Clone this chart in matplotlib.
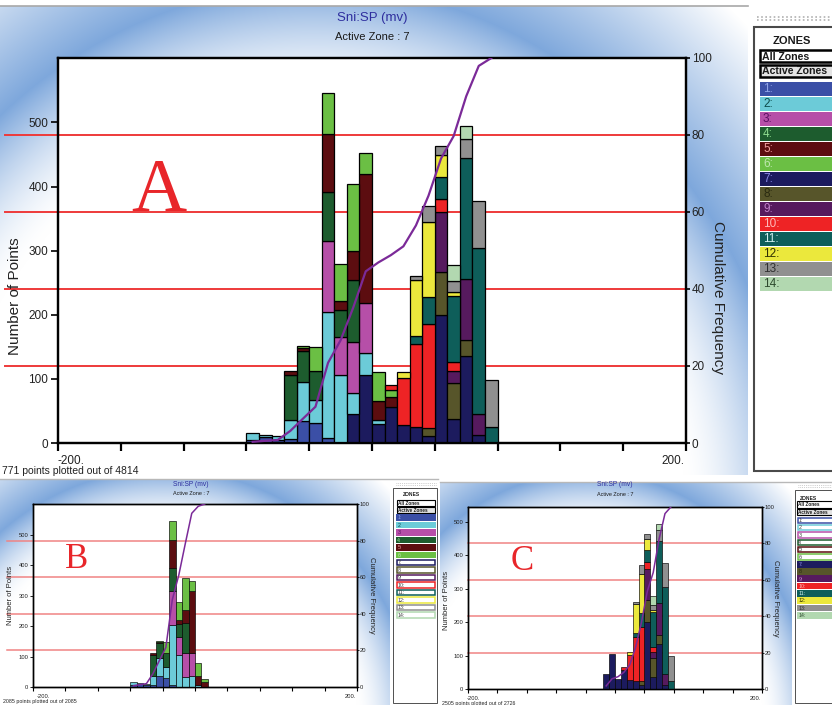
import numpy as np
import matplotlib.pyplot as plt
from matplotlib.patches import Rectangle

W, H = 832, 705
plt.rcParams['font.family'] = ['Liberation Sans', 'DejaVu Sans']

# histogram bins of Sni:SP (mv), 8 mv wide, from -80 to 80
bin_left = np.arange(-80, 80, 8)
bin_width = 8

# points per bin for every zone
zone1 = [5, 10, 5, 7, 35, 31, 8, 0, 0, 0, 0, 0, 0, 0, 0, 0, 0, 0, 0, 0]
zone2 = [10, 2, 6, 29, 60, 36, 197, 106, 32, 35, 6, 0, 0, 0, 0, 0, 0, 0, 0, 0]
zone3 = [0, 0, 0, 0, 0, 0, 110, 59, 79, 78, 0, 0, 0, 0, 0, 0, 0, 0, 0, 0]
zone4 = [0, 0, 0, 70, 48, 45, 77, 43, 98, 0, 0, 0, 0, 0, 0, 0, 0, 0, 0, 0]
zone5 = [0, 0, 0, 7, 5, 0, 90, 13, 44, 201, 30, 16, 0, 0, 0, 0, 0, 0, 0, 0]
zone6 = [0, 0, 0, 0, 3, 37, 64, 59, 105, 33, 44, 10, 0, 0, 0, 0, 0, 0, 0, 0]
zone7 = [0, 0, 0, 0, 0, 0, 0, 0, 46, 106, 30, 56, 28, 25, 11, 200, 37, 136, 12, 0]
zone8 = [0, 0, 0, 0, 0, 0, 0, 0, 0, 0, 0, 0, 0, 0, 12, 66, 56, 25, 0, 0]
zone9 = [0, 0, 0, 0, 0, 0, 0, 0, 0, 0, 0, 0, 0, 0, 0, 94, 19, 95, 34, 0]
zone10 = [0, 0, 0, 0, 0, 0, 0, 0, 0, 0, 0, 9, 73, 130, 162, 21, 15, 0, 0, 0]
zone11 = [0, 0, 0, 0, 0, 0, 0, 0, 0, 0, 0, 0, 0, 12, 42, 34, 103, 188, 258, 25]
zone12 = [0, 0, 0, 0, 0, 0, 0, 0, 0, 0, 0, 0, 9, 87, 118, 34, 5, 0, 0, 0]
zone13 = [0, 0, 0, 0, 0, 0, 0, 0, 0, 0, 0, 0, 0, 6, 25, 14, 17, 31, 74, 73]
zone14 = [0, 0, 0, 0, 0, 0, 0, 0, 0, 0, 0, 0, 0, 0, 0, 0, 25, 20, 0, 0]
zones = [zone1, zone2, zone3, zone4, zone5, zone6, zone7,
         zone8, zone9, zone10, zone11, zone12, zone13, zone14]

zone_colors = ['#3b4fa6', '#6ccbd8', '#b64fa8', '#1d5c2e', '#5c0d10', '#6bbf44',
               '#1c1b5e', '#57552a', '#561a5e', '#ee2325', '#0e5e5a', '#ebe83c',
               '#909090', '#b2d8b0']
zone_labels = ['%d:' % i for i in range(1, 15)]
label_colors = ['#8fa2e6', '#0d4d4d', '#5a1062', '#8fdc8f', '#f0a0a0', '#c0e8b0',
                '#8a8ae6', '#2a2a10', '#c080c8', '#ffb8b8', '#d0f0f0', '#303000',
                '#303030', '#2e4a2e']
active_zone = 7

freq_ticks = [0, 20, 40, 60, 80, 100]
count_ticks = [0, 100, 200, 300, 400, 500]


def fbox(x0, y0, x1, y1):
    return [x0 / W, 1 - y1 / H, (x1 - x0) / W, (y1 - y0) / H]


def fpt(x, y):
    return x / W, 1 - y / H


fig = plt.figure(figsize=(W / 100, H / 100), dpi=100)

# background with the blue gradients of the three screen shots
bg = fig.add_axes([0, 0, 1, 1])
bg.set_xlim(0, W)
bg.set_ylim(H, 0)
bg.axis('off')
img = np.ones((H, W, 3))
yy, xx = np.mgrid[0:H, 0:W]
blue = np.array([112, 158, 216]) / 255


def gradient(x0, y0, x1, y1):
    u = (xx[y0:y1, x0:x1] - x0) / (x1 - x0)
    v = (yy[y0:y1, x0:x1] - y0) / (y1 - y0)
    d = np.sqrt(((u - 0.42) / 0.62) ** 2 + ((v - 1.1) / 1.1) ** 2)
    t = np.clip((d - 0.8) / 0.24, 0, 1) ** 1.6 * np.clip(1 - (d - 1.04) / 0.3, 0, 1)
    t = 0.9 * t[..., None]
    img[y0:y1, x0:x1] = (1 - t) + t * blue


gradient(0, 6, 748, 475)
gradient(0, 479, 390, 705)
gradient(440, 482, 792, 705)
bg.imshow(img, extent=[0, W, H, 0], aspect='auto', zorder=0)
bg.plot([0, 748], [5.5, 5.5], color='#a8a8a8', lw=1.2)
bg.plot([0, 438], [478.5, 478.5], color='#b8b8b8', lw=1.0)
bg.plot([440, 832], [481.5, 481.5], color='#b8b8b8', lw=1.0)


def draw_panel(box, shown, s, red_ext, title_xy, labels_xy, letter, letter_xy, letter_fs, points_text):
    x0, y0, x1, y1 = box
    ax = fig.add_axes(fbox(x0, y0, x1, y1))
    ax.set_facecolor('white')
    order = [active_zone] + [z for z in range(1, 15) if z != active_zone]
    order = [z for z in order if z in shown]
    bottom = np.zeros(len(bin_left))
    for z in order:
        vals = np.array(zones[z - 1], dtype=float)
        keep = vals > 0
        ax.bar(bin_left[keep], vals[keep], width=bin_width, bottom=bottom[keep], align='edge',
               color=zone_colors[z - 1], edgecolor='black', linewidth=0.9 * s, zorder=3)
        bottom += vals
    ymax = 1.1 * bottom.max()
    ax.set_ylim(0, ymax)
    ax.set_xlim(-200, 200)
    for p in freq_ticks[1:-1]:
        ax.axhline(p / 100 * ymax, xmin=red_ext, xmax=1, color='#ee3a3a' if s > 0.8 else '#f08484',
                   lw=1.4 * s if s > 0.8 else 1.1, zorder=1, clip_on=False)
    ax.set_yticks(count_ticks)
    ax.set_xticks(range(-200, 201, 40))
    ax.set_xticklabels([])
    ax.tick_params(axis='x', direction='out', length=6 * s, width=1.6 * s)
    ax.tick_params(axis='y', direction='out', length=5 * s, width=1.2 * s, labelsize=8.5 * s,
                   labelcolor='#222222', pad=2 * s)

    ax2 = ax.twinx()
    ax2.set_ylim(0, 100)
    ax2.set_yticks(freq_ticks)
    ax2.tick_params(axis='y', direction='out', length=3 * s, width=1.2 * s, labelsize=8.5 * s,
                    labelcolor='#222222', pad=1 * s)
    keep = np.nonzero(bottom > 0)[0]
    cum = np.cumsum(bottom) / bottom.sum() * 100
    centers = bin_left + bin_width / 2
    ax2.plot(centers[keep[0]:keep[-1] + 1], cum[keep[0]:keep[-1] + 1], color='#7b2a98',
             lw=1.6 * s if s > 0.8 else 1.1, zorder=5)
    for a in (ax, ax2):
        for sp in a.spines.values():
            sp.set_linewidth(1.6 * s if s > 0.8 else 1.0)
            sp.set_color('black')

    tx, ty, sy = title_xy
    fig.text(*fpt(tx, ty), 'Sni:SP (mv)', ha='center', va='center', fontsize=9.5 * s, color='#2e2e9e')
    fig.text(*fpt(tx, ty + sy), 'Active Zone : 7', ha='center', va='center', fontsize=8 * s, color='#1a1a1a')
    (lx, ly), (rx, ry), (mx, my), (px_, py_), (ptx, pty) = labels_xy
    fig.text(*fpt(lx, ly), 'Number of Points', rotation=90, ha='center', va='center',
             fontsize=11 * s, color='#222222')
    fig.text(*fpt(rx, ry), 'Cumulative Frequency', rotation=270, ha='center', va='center',
             fontsize=11 * s, color='#222222')
    fig.text(*fpt(mx, my), '-200.', ha='left', va='center', fontsize=8.5 * s, color='#222222')
    fig.text(*fpt(px_, py_), '200.', ha='right', va='center', fontsize=8.5 * s, color='#222222')
    fig.text(*fpt(ptx, pty), points_text, ha='left', va='center', fontsize=7.5 * s, color='#222222')
    fig.text(*fpt(*letter_xy), letter, ha='center', va='baseline', fontsize=letter_fs,
             color='#e8262a', family='Liberation Serif')


def draw_legend(frame, filled, s, dots_y, title_xy, all_box, act_box, row_x, row_top, row_h):
    fx0, fy0, fx1, fy1 = frame
    bg.add_patch(Rectangle((fx0, fy0), fx1 - fx0, fy1 - fy0, facecolor='white',
                           edgecolor='#4a4a4a', lw=1.5 * s, zorder=2))
    for dy in (-1.5 * s, 1.5 * s):
        bg.plot([fx0 + 3, fx1 - 1], [dots_y + dy, dots_y + dy], color='#b0b0b0', lw=1.2 * s,
                ls=(0, (1, 1.5)), zorder=2)
    bg.text(title_xy[0], title_xy[1], 'ZONES', fontsize=8 * s, fontweight='bold',
            ha='left', va='center', color='#1a1a1a', zorder=3)
    for (bx0, by0, bx1, by1), txt, fc in ((all_box, 'All Zones', 'white'),
                                          (act_box, 'Active Zones', '#e4e4e4')):
        bg.add_patch(Rectangle((bx0, by0), bx1 - bx0, by1 - by0, facecolor=fc,
                               edgecolor='black', lw=1.8 * s, zorder=3))
        bg.text(bx0 + 2 * s, (by0 + by1) / 2 + 0.5, txt, fontsize=7.6 * s, fontweight='bold',
                ha='left', va='center', color='#1a1a1a', zorder=4)
    rx0, rx1 = row_x
    for i in range(14):
        top = row_top + i * row_h
        if (i + 1) in filled:
            bg.add_patch(Rectangle((rx0, top), rx1 - rx0, row_h - 0.6, facecolor=zone_colors[i],
                                   edgecolor='none', zorder=3))
            tc = label_colors[i]
        else:
            bg.add_patch(Rectangle((rx0 + 0.6, top + 0.6), rx1 - rx0 - 1.2, row_h - 1.8,
                                   facecolor='white', edgecolor=zone_colors[i], lw=1.1, zorder=3))
            tc = '#404040'
        bg.text(rx0 + 3 * s, top + row_h / 2, zone_labels[i], fontsize=8.5 * s, ha='left',
                va='center', color=tc, zorder=4)


all_zones = set(range(1, 15))
group_b = {1, 2, 3, 4, 5, 6}
group_c = {7, 8, 9, 10, 11, 12, 13, 14}

# panel A: every zone
draw_panel((58, 58, 686, 443), all_zones, 1.0, -0.085, (372, 18, 19),
           [(15, 296), (718, 297), (57, 461), (684, 461), (2, 471)],
           'A', (159, 211), 55, '771 points plotted out of 4814')
draw_legend((754, 27, 900, 471), all_zones, 1.0, 18, (773, 41),
            (760, 50, 900, 62), (760, 65, 900, 77), (760, 900), 81.7, 15.0)

# panel B: zones 1 to 6
draw_panel((33, 504, 357, 687), group_b, 0.5, -0.08, (191, 485, 8.5),
           [(11, 595), (371, 595), (37, 696), (356, 696), (3, 702)],
           'B', (77, 568), 25, '2085 points plotted out of 2085')
draw_legend((393, 488, 437, 703), group_b, 0.45, 484, (403, 495),
            (397, 499.5, 435, 506), (397, 507, 435, 513), (396, 436), 514.0, 7.5)

# panel C: zones 7 to 14
draw_panel((468, 507, 762, 689), group_c, 0.5, 0.0, (615, 485, 9),
           [(447, 600), (776, 598), (467, 698), (761, 698), (442, 703)],
           'C', (522, 570), 25, '2505 points plotted out of 2726')
draw_legend((795, 490, 900, 703), group_c, 0.45, 486, (800, 498),
            (797, 501, 900, 507.5), (797, 509, 900, 515), (797, 900), 517.0, 7.3)

fig.savefig('out.png', dpi=100)
